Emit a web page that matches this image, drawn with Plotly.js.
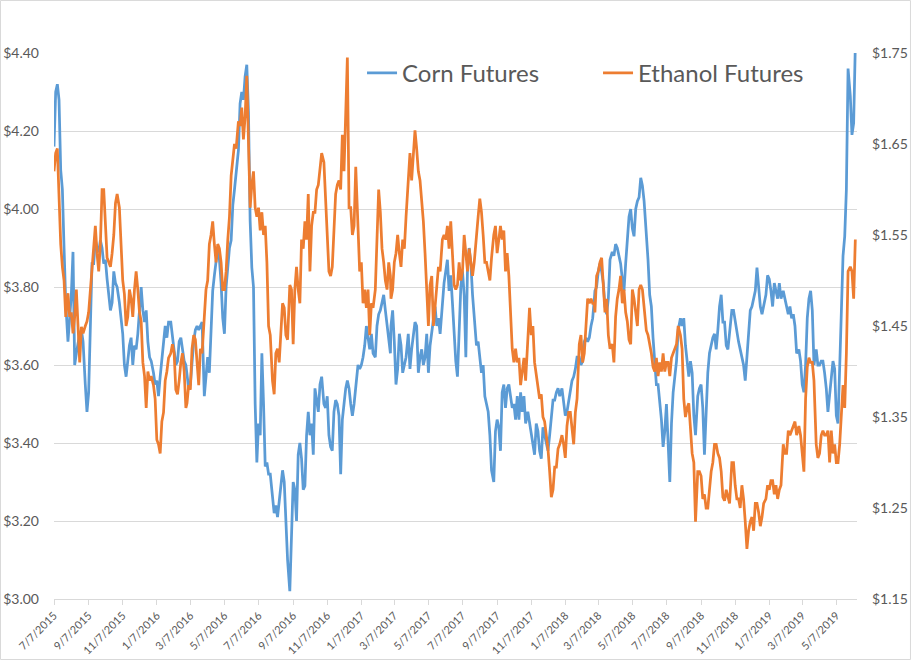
<!DOCTYPE html>
<html>
<head>
<meta charset="utf-8">
<script src="https://cdn.plot.ly/plotly-3.0.1.min.js"></script>
<style>
  html, body { margin: 0; padding: 0; background: #ffffff; }
  #chart { width: 911px; height: 660px; }
</style>
</head>
<body>
<div id="chart"></div>
<script>
// Observation dates (shared by both series)
const dates = [
  "2015-07-07","2015-07-10","2015-07-13","2015-07-16","2015-07-19","2015-07-22","2015-07-25","2015-07-28",
  "2015-08-01","2015-08-04","2015-08-07","2015-08-10","2015-08-13","2015-08-16","2015-08-19","2015-08-22","2015-08-25","2015-08-28",
  "2015-09-01","2015-09-04","2015-09-07","2015-09-10","2015-09-13","2015-09-16","2015-09-19","2015-09-22","2015-09-25","2015-09-28",
  "2015-10-01","2015-10-04","2015-10-07","2015-10-10","2015-10-13","2015-10-16","2015-10-19","2015-10-22","2015-10-25","2015-10-28",
  "2015-11-01","2015-11-04","2015-11-07","2015-11-10","2015-11-13","2015-11-16","2015-11-19","2015-11-22","2015-11-25","2015-11-28",
  "2015-12-01","2015-12-04","2015-12-07","2015-12-10","2015-12-13","2015-12-16","2015-12-19","2015-12-22","2015-12-25","2015-12-28",
  "2016-01-01","2016-01-04","2016-01-07","2016-01-10","2016-01-13","2016-01-16","2016-01-19","2016-01-22","2016-01-25","2016-01-28",
  "2016-02-01","2016-02-04","2016-02-07","2016-02-10","2016-02-13","2016-02-16","2016-02-19","2016-02-22","2016-02-25","2016-02-28",
  "2016-03-01","2016-03-04","2016-03-07","2016-03-10","2016-03-13","2016-03-16","2016-03-19","2016-03-22","2016-03-25","2016-03-28",
  "2016-04-01","2016-04-04","2016-04-07","2016-04-10","2016-04-13","2016-04-16","2016-04-19","2016-04-22","2016-04-25","2016-04-28",
  "2016-05-01","2016-05-04","2016-05-07","2016-05-10","2016-05-13","2016-05-16","2016-05-19","2016-05-22","2016-05-25","2016-05-28",
  "2016-06-01","2016-06-04","2016-06-07","2016-06-10","2016-06-13","2016-06-16","2016-06-19","2016-06-22","2016-06-25","2016-06-28",
  "2016-07-01","2016-07-04","2016-07-07","2016-07-10","2016-07-13","2016-07-16","2016-07-19","2016-07-22","2016-07-25","2016-07-28",
  "2016-08-01","2016-08-04","2016-08-07","2016-08-10","2016-08-13","2016-08-16","2016-08-19","2016-08-22","2016-08-25","2016-08-28",
  "2016-09-01","2016-09-04","2016-09-07","2016-09-10","2016-09-13","2016-09-16","2016-09-19","2016-09-22","2016-09-25","2016-09-28",
  "2016-10-01","2016-10-04","2016-10-07","2016-10-10","2016-10-13","2016-10-16","2016-10-19","2016-10-22","2016-10-25","2016-10-28",
  "2016-11-01","2016-11-04","2016-11-07","2016-11-10","2016-11-13","2016-11-16","2016-11-19","2016-11-22","2016-11-25","2016-11-28",
  "2016-12-01","2016-12-04","2016-12-07","2016-12-10","2016-12-13","2016-12-16","2016-12-19","2016-12-22","2016-12-25","2016-12-28",
  "2017-01-01","2017-01-04","2017-01-07","2017-01-10","2017-01-13","2017-01-16","2017-01-19","2017-01-22","2017-01-25","2017-01-28",
  "2017-02-01","2017-02-04","2017-02-07","2017-02-10","2017-02-13","2017-02-16","2017-02-19","2017-02-22","2017-02-25","2017-02-28",
  "2017-03-01","2017-03-04","2017-03-07","2017-03-10","2017-03-13","2017-03-16","2017-03-19","2017-03-22","2017-03-25","2017-03-28",
  "2017-04-01","2017-04-04","2017-04-07","2017-04-10","2017-04-13","2017-04-16","2017-04-19","2017-04-22","2017-04-25","2017-04-28",
  "2017-05-01","2017-05-04","2017-05-07","2017-05-10","2017-05-13","2017-05-16","2017-05-19","2017-05-22","2017-05-25","2017-05-28",
  "2017-06-01","2017-06-04","2017-06-07","2017-06-10","2017-06-13","2017-06-16","2017-06-19","2017-06-22","2017-06-25","2017-06-28",
  "2017-07-01","2017-07-04","2017-07-07","2017-07-10","2017-07-13","2017-07-16","2017-07-19","2017-07-22","2017-07-25","2017-07-28",
  "2017-08-01","2017-08-04","2017-08-07","2017-08-10","2017-08-13","2017-08-16","2017-08-19","2017-08-22","2017-08-25","2017-08-28",
  "2017-09-01","2017-09-04","2017-09-07","2017-09-10","2017-09-13","2017-09-16","2017-09-19","2017-09-22","2017-09-25","2017-09-28",
  "2017-10-01","2017-10-04","2017-10-07","2017-10-10","2017-10-13","2017-10-16","2017-10-19","2017-10-22","2017-10-25","2017-10-28",
  "2017-11-01","2017-11-04","2017-11-07","2017-11-10","2017-11-13","2017-11-16","2017-11-19","2017-11-22","2017-11-25","2017-11-28",
  "2017-12-01","2017-12-04","2017-12-07","2017-12-10","2017-12-13","2017-12-16","2017-12-19","2017-12-22","2017-12-25","2017-12-28",
  "2018-01-01","2018-01-04","2018-01-07","2018-01-10","2018-01-13","2018-01-16","2018-01-19","2018-01-22","2018-01-25","2018-01-28",
  "2018-02-01","2018-02-04","2018-02-07","2018-02-10","2018-02-13","2018-02-16","2018-02-19","2018-02-22","2018-02-25","2018-02-28",
  "2018-03-01","2018-03-04","2018-03-07","2018-03-10","2018-03-13","2018-03-16","2018-03-19","2018-03-22","2018-03-25","2018-03-28",
  "2018-04-01","2018-04-04","2018-04-07","2018-04-10","2018-04-13","2018-04-16","2018-04-19","2018-04-22","2018-04-25","2018-04-28",
  "2018-05-01","2018-05-04","2018-05-07","2018-05-10","2018-05-13","2018-05-16","2018-05-19","2018-05-22","2018-05-25","2018-05-28",
  "2018-06-01","2018-06-04","2018-06-07","2018-06-10","2018-06-13","2018-06-16","2018-06-19","2018-06-22","2018-06-25","2018-06-28",
  "2018-07-01","2018-07-04","2018-07-07","2018-07-10","2018-07-13","2018-07-16","2018-07-19","2018-07-22","2018-07-25","2018-07-28",
  "2018-08-01","2018-08-04","2018-08-07","2018-08-10","2018-08-13","2018-08-16","2018-08-19","2018-08-22","2018-08-25","2018-08-28",
  "2018-09-01","2018-09-04","2018-09-07","2018-09-10","2018-09-13","2018-09-16","2018-09-19","2018-09-22","2018-09-25","2018-09-28",
  "2018-10-01","2018-10-04","2018-10-07","2018-10-10","2018-10-13","2018-10-16","2018-10-19","2018-10-22","2018-10-25","2018-10-28",
  "2018-11-01","2018-11-04","2018-11-07","2018-11-10","2018-11-13","2018-11-16","2018-11-19","2018-11-22","2018-11-25","2018-11-28",
  "2018-12-01","2018-12-04","2018-12-07","2018-12-10","2018-12-13","2018-12-16","2018-12-19","2018-12-22","2018-12-25","2018-12-28",
  "2019-01-01","2019-01-04","2019-01-07","2019-01-10","2019-01-13","2019-01-16","2019-01-19","2019-01-22","2019-01-25","2019-01-28",
  "2019-02-01","2019-02-04","2019-02-07","2019-02-10","2019-02-13","2019-02-16","2019-02-19","2019-02-22","2019-02-25","2019-02-28",
  "2019-03-01","2019-03-04","2019-03-07","2019-03-10","2019-03-13","2019-03-16","2019-03-19","2019-03-22","2019-03-25","2019-03-28",
  "2019-04-01","2019-04-04","2019-04-07","2019-04-10","2019-04-13","2019-04-16","2019-04-19","2019-04-22","2019-04-25","2019-04-28",
  "2019-05-01","2019-05-04","2019-05-07","2019-05-10","2019-05-13","2019-05-16","2019-05-19","2019-05-22","2019-05-25","2019-05-28",
  "2019-06-01","2019-06-04","2019-06-07","2019-06-10"
];

// Corn futures ($/bu), left axis
const cornFutures = [
  4.16,4.30,4.32,4.28,4.10,4.05,3.90,3.76,
  3.66,3.71,3.78,3.89,3.60,3.63,3.66,3.68,3.69,3.66,
  3.55,3.48,3.53,3.68,3.86,3.86,3.92,3.90,3.89,3.92,
  3.90,3.86,3.87,3.82,3.78,3.74,3.76,3.84,3.81,3.80,
  3.76,3.72,3.68,3.60,3.57,3.61,3.65,3.67,3.60,3.65,
  3.64,3.68,3.73,3.80,3.74,3.71,3.74,3.66,3.62,3.61,
  3.58,3.55,3.56,3.52,3.57,3.62,3.67,3.70,3.67,3.71,
  3.71,3.67,3.64,3.60,3.61,3.66,3.67,3.64,3.61,3.60,
  3.57,3.54,3.55,3.61,3.66,3.69,3.70,3.69,3.70,3.71,
  3.52,3.58,3.62,3.58,3.68,3.79,3.83,3.87,3.90,3.87,
  3.81,3.72,3.68,3.80,3.85,3.90,3.92,4.01,4.05,4.09,
  4.15,4.27,4.30,4.28,4.34,4.37,4.25,3.97,3.85,3.80,
  3.50,3.35,3.45,3.42,3.63,3.50,3.34,3.35,3.32,3.32,
  3.25,3.22,3.24,3.21,3.25,3.29,3.33,3.30,3.20,3.10,
  3.02,3.16,3.30,3.28,3.20,3.37,3.40,3.36,3.28,3.29,
  3.42,3.48,3.42,3.45,3.37,3.54,3.51,3.48,3.55,3.57,
  3.50,3.49,3.52,3.42,3.39,3.38,3.48,3.51,3.50,3.47,
  3.32,3.46,3.50,3.54,3.56,3.54,3.50,3.47,3.50,3.54,
  3.60,3.59,3.60,3.62,3.65,3.70,3.67,3.64,3.68,3.63,
  3.62,3.70,3.73,3.74,3.76,3.78,3.74,3.70,3.67,3.63,
  3.70,3.74,3.66,3.55,3.59,3.68,3.65,3.58,3.60,3.62,
  3.68,3.59,3.64,3.68,3.71,3.70,3.58,3.62,3.64,3.60,
  3.62,3.68,3.58,3.65,3.68,3.71,3.75,3.70,3.72,3.68,
  3.76,3.81,3.84,3.87,3.79,3.83,3.76,3.68,3.61,3.57,
  3.71,3.80,3.84,3.78,3.62,3.85,3.90,3.86,3.78,3.73,
  3.65,3.66,3.62,3.58,3.60,3.52,3.50,3.48,3.42,3.33,
  3.30,3.43,3.46,3.44,3.38,3.53,3.55,3.49,3.54,3.55,
  3.52,3.49,3.50,3.46,3.52,3.46,3.53,3.48,3.52,3.45,
  3.48,3.45,3.43,3.40,3.37,3.45,3.43,3.38,3.36,3.44,
  3.42,3.40,3.38,3.42,3.47,3.51,3.51,3.53,3.54,3.52,
  3.54,3.51,3.47,3.48,3.51,3.53,3.56,3.57,3.59,3.62,
  3.62,3.60,3.61,3.66,3.67,3.66,3.67,3.70,3.72,3.77,
  3.79,3.80,3.84,3.86,3.84,3.81,3.75,3.73,3.77,3.87,
  3.89,3.88,3.91,3.90,3.88,3.86,3.82,3.79,3.86,3.92,
  3.98,4.00,3.95,3.93,4.00,4.02,4.03,4.08,4.06,4.02,
  3.94,3.87,3.78,3.75,3.67,3.60,3.55,3.55,3.51,3.46,
  3.39,3.43,3.50,3.40,3.30,3.45,3.53,3.57,3.61,3.69,
  3.72,3.70,3.72,3.65,3.60,3.57,3.61,3.58,3.47,3.42,
  3.52,3.54,3.55,3.49,3.37,3.48,3.58,3.63,3.65,3.67,
  3.68,3.64,3.69,3.75,3.78,3.71,3.71,3.65,3.64,3.69,
  3.74,3.74,3.71,3.68,3.66,3.64,3.62,3.60,3.56,3.63,
  3.70,3.74,3.75,3.77,3.79,3.85,3.79,3.75,3.73,3.75,
  3.78,3.83,3.82,3.79,3.75,3.81,3.79,3.77,3.81,3.77,
  3.79,3.77,3.75,3.73,3.75,3.72,3.73,3.70,3.63,3.64,
  3.64,3.61,3.55,3.53,3.60,3.72,3.77,3.79,3.74,3.60,
  3.64,3.60,3.60,3.61,3.61,3.58,3.54,3.48,3.52,3.57,
  3.61,3.59,3.47,3.45,3.60,3.78,3.88,3.93,4.05,4.36,
  4.29,4.19,4.22,4.42
];

// Ethanol futures ($/gal), right axis
const ethanolFutures = [
  1.62,1.64,1.645,1.59,1.54,1.515,1.50,1.46,
  1.486,1.46,1.465,1.442,1.46,1.49,1.457,1.41,1.449,1.442,
  1.45,1.455,1.465,1.49,1.52,1.54,1.56,1.53,1.51,1.54,
  1.60,1.60,1.56,1.525,1.52,1.515,1.53,1.55,1.585,1.595,
  1.58,1.53,1.50,1.485,1.45,1.46,1.49,1.48,1.46,1.49,
  1.51,1.49,1.465,1.455,1.41,1.395,1.36,1.40,1.39,1.395,
  1.385,1.37,1.325,1.32,1.31,1.345,1.355,1.39,1.40,1.415,
  1.42,1.43,1.42,1.38,1.375,1.39,1.41,1.42,1.40,1.36,
  1.365,1.385,1.38,1.425,1.44,1.435,1.41,1.385,1.425,1.42,
  1.46,1.49,1.50,1.54,1.55,1.565,1.54,1.52,1.54,1.535,
  1.52,1.49,1.49,1.51,1.545,1.57,1.615,1.63,1.65,1.645,
  1.675,1.67,1.69,1.655,1.68,1.725,1.64,1.58,1.605,1.62,
  1.58,1.57,1.58,1.555,1.575,1.55,1.56,1.52,1.45,1.44,
  1.39,1.375,1.42,1.425,1.41,1.44,1.475,1.47,1.44,1.435,
  1.495,1.49,1.43,1.49,1.515,1.49,1.475,1.545,1.535,1.565,
  1.545,1.595,1.51,1.56,1.575,1.575,1.60,1.605,1.62,1.64,
  1.63,1.59,1.545,1.51,1.505,1.515,1.555,1.595,1.605,1.61,
  1.60,1.66,1.62,1.69,1.745,1.58,1.58,1.55,1.56,1.625,
  1.565,1.51,1.52,1.475,1.49,1.47,1.49,1.44,1.475,1.47,
  1.49,1.55,1.60,1.575,1.535,1.52,1.50,1.49,1.52,1.505,
  1.48,1.49,1.52,1.53,1.55,1.53,1.515,1.545,1.535,1.57,
  1.615,1.64,1.61,1.645,1.665,1.645,1.62,1.61,1.59,1.565,
  1.53,1.495,1.45,1.495,1.505,1.45,1.47,1.49,1.515,1.51,
  1.545,1.55,1.545,1.56,1.535,1.565,1.525,1.495,1.49,1.495,
  1.52,1.50,1.51,1.55,1.53,1.51,1.535,1.52,1.505,1.52,
  1.555,1.57,1.59,1.575,1.55,1.52,1.52,1.51,1.50,1.525,
  1.55,1.56,1.53,1.545,1.56,1.545,1.555,1.51,1.53,1.505,
  1.47,1.425,1.41,1.425,1.41,1.415,1.385,1.40,1.415,1.39,
  1.44,1.47,1.44,1.45,1.41,1.395,1.385,1.37,1.375,1.35,
  1.345,1.33,1.315,1.29,1.262,1.27,1.295,1.295,1.315,1.32,
  1.33,1.32,1.305,1.34,1.355,1.355,1.34,1.32,1.355,1.37,
  1.43,1.44,1.41,1.42,1.45,1.48,1.475,1.48,1.475,1.475,
  1.465,1.505,1.51,1.52,1.525,1.495,1.465,1.48,1.44,1.425,
  1.43,1.41,1.46,1.48,1.49,1.505,1.475,1.49,1.465,1.455,
  1.435,1.43,1.49,1.48,1.465,1.45,1.49,1.495,1.49,1.47,
  1.445,1.44,1.43,1.42,1.405,1.40,1.415,1.395,1.41,1.40,
  1.42,1.40,1.41,1.41,1.395,1.415,1.42,1.425,1.43,1.45,
  1.44,1.425,1.37,1.35,1.36,1.365,1.335,1.31,1.30,1.235,
  1.29,1.29,1.285,1.26,1.265,1.25,1.25,1.27,1.29,1.30,
  1.32,1.32,1.31,1.305,1.29,1.262,1.258,1.27,1.262,1.255,
  1.30,1.30,1.275,1.26,1.26,1.25,1.275,1.26,1.235,1.205,
  1.225,1.235,1.24,1.225,1.255,1.255,1.245,1.23,1.24,1.255,
  1.26,1.275,1.27,1.28,1.28,1.265,1.275,1.26,1.27,1.275,
  1.32,1.31,1.31,1.335,1.33,1.335,1.34,1.345,1.33,1.34,
  1.34,1.33,1.31,1.29,1.37,1.405,1.415,1.41,1.41,1.39,
  1.32,1.305,1.31,1.33,1.335,1.33,1.33,1.335,1.30,1.335,
  1.31,1.32,1.30,1.30,1.32,1.36,1.385,1.36,1.42,1.51,
  1.515,1.51,1.48,1.545
];

// X-axis tick positions and labels
const xTickVals = [
  "2015-07-07","2015-09-07","2015-11-07","2016-01-07","2016-03-07","2016-05-07",
  "2016-07-07","2016-09-07","2016-11-07","2017-01-07","2017-03-07","2017-05-07",
  "2017-07-07","2017-09-07","2017-11-07","2018-01-07","2018-03-07","2018-05-07",
  "2018-07-07","2018-09-07","2018-11-07","2019-01-07","2019-03-07","2019-05-07"
];
const xTickText = [
  "7/7/2015","9/7/2015","11/7/2015","1/7/2016","3/7/2016","5/7/2016",
  "7/7/2016","9/7/2016","11/7/2016","1/7/2017","3/7/2017","5/7/2017",
  "7/7/2017","9/7/2017","11/7/2017","1/7/2018","3/7/2018","5/7/2018",
  "7/7/2018","9/7/2018","11/7/2018","1/7/2019","3/7/2019","5/7/2019"
];
const seriesNames = ["Corn Futures", "Ethanol Futures"];
const seriesColors = ["#5B9BD5", "#ED7D31"];

const FONT = 'Lato, "Open Sans", "DejaVu Sans", sans-serif';
const GRID = '#d9d9d9';
const TXT = '#595959';

const traces = [
  {
    x: dates, y: cornFutures, name: seriesNames[0], type: 'scatter', mode: 'lines',
    line: { color: seriesColors[0], width: 2.75 }, yaxis: 'y'
  },
  {
    x: dates, y: ethanolFutures, name: seriesNames[1], type: 'scatter', mode: 'lines',
    line: { color: seriesColors[1], width: 2.75 }, yaxis: 'y2'
  }
];

const layout = {
  width: 911, height: 660,
  margin: { l: 54, r: 54, t: 53, b: 61, pad: 0, autoexpand: false },
  paper_bgcolor: '#ffffff', plot_bgcolor: '#ffffff',
  font: { family: FONT, color: TXT, size: 14 },
  showlegend: true,
  legend: {
    orientation: 'h', x: 0.3836, y: 0.963, xanchor: 'left', yanchor: 'middle',
    font: { family: FONT, size: 24, color: TXT },
    bgcolor: 'rgba(0,0,0,0)', borderwidth: 0,
    entrywidth: 191, entrywidthmode: 'pixels', itemwidth: 30
  },
  xaxis: {
    type: 'date', range: ['2015-07-07', '2019-06-13'],
    tickmode: 'array', tickvals: xTickVals, ticktext: xTickText,
    tickangle: -45, tickfont: { family: FONT, size: 11, color: TXT },
    showgrid: false, showline: true, linecolor: GRID, linewidth: 1,
    ticks: 'outside', ticklen: 5, tickcolor: GRID, tickwidth: 1,
    zeroline: false, fixedrange: true, automargin: false
  },
  yaxis: {
    range: [3.0, 4.4], tick0: 3.0, dtick: 0.2, tickformat: '$.2f',
    tickfont: { family: FONT, size: 14, color: TXT },
    showgrid: true, gridcolor: GRID, gridwidth: 1,
    showline: false, zeroline: false, ticks: '', ticklabelstandoff: 14,
    fixedrange: true, automargin: false
  },
  yaxis2: {
    range: [1.15, 1.75], tick0: 1.15, dtick: 0.1, tickformat: '$.2f',
    overlaying: 'y', side: 'right',
    tickfont: { family: FONT, size: 14, color: TXT },
    showgrid: false, showline: false, zeroline: false, ticks: '', ticklabelstandoff: 14,
    fixedrange: true, automargin: false
  },
  shapes: [
    { type: 'rect', xref: 'paper', yref: 'paper',
      x0: -0.0666, x1: 1.0666, y0: -0.1108, y1: 1.0962,
      line: { color: GRID, width: 1 }, fillcolor: 'rgba(0,0,0,0)', layer: 'below' }
  ]
};

Plotly.newPlot('chart', traces, layout, { staticPlot: true, displayModeBar: false });
</script>
</body>
</html>
